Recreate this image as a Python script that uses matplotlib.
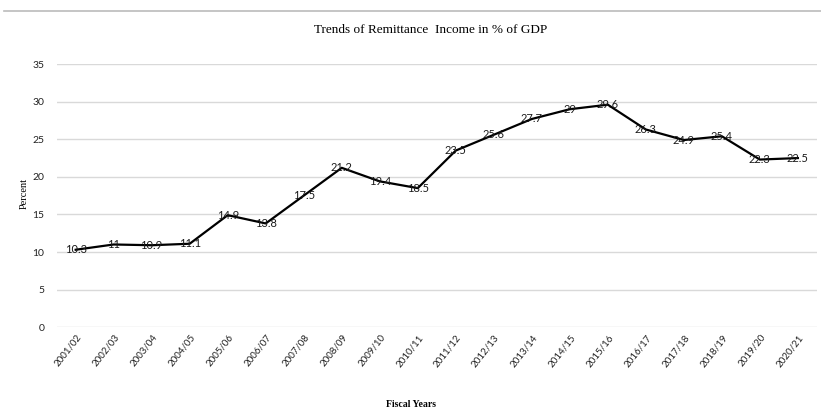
import matplotlib.pyplot as plt
from matplotlib.lines import Line2D

years = ["2001/02", "2002/03", "2003/04", "2004/05", "2005/06", "2006/07",
         "2007/08", "2008/09", "2009/10", "2010/11", "2011/12", "2012/13",
         "2013/14", "2014/15", "2015/16", "2016/17", "2017/18", "2018/19",
         "2019/20", "2020/21"]
remit = [10.3, 11, 10.9, 11.1, 14.9, 13.8, 17.5, 21.2, 19.4, 18.5,
         23.5, 25.6, 27.7, 29, 29.6, 26.3, 24.9, 25.4, 22.3, 22.5]
yticks = [0, 5, 10, 15, 20, 25, 30, 35]

fig = plt.figure(figsize=(8.21, 4.11), dpi=100)
ax = fig.add_axes([0.069, 0.204, 0.926, 0.64])

x = list(range(len(years)))
ax.plot(x, remit, color='black', lw=1.6, zorder=3)
for xi, v in zip(x, remit):
    ax.text(xi, v, f"{v:g}", ha='center', va='center', fontsize=8,
            family='Lato', color='#1a1a1a', zorder=4)

ax.set_xlim(-0.5, len(years) - 0.5)
ax.set_ylim(0, 35)
ax.set_yticks(yticks)
ax.set_xticks(x)
ax.set_xticklabels(years, rotation=52, ha='right', rotation_mode='anchor',
                   fontsize=7, family='Lato', color='#222222')
for lab in ax.get_yticklabels():
    lab.set_family('Lato')
    lab.set_fontsize(7.5)
    lab.set_color('#222222')
ax.tick_params(length=0, pad=9)
ax.tick_params(axis='x', pad=4)
ax.grid(axis='y', color='#d9d9d9', lw=1)
ax.set_axisbelow(True)
for s in ax.spines.values():
    s.set_visible(False)

fig.text(0.525, 0.927, "Trends of Remittance  Income in % of GDP",
         ha='center', va='center', fontsize=9.5, family='Liberation Serif')
fig.text(0.5, 0.017, "Fiscal Years", ha='center', va='center',
         fontsize=7, family='Liberation Serif', weight='bold')
fig.text(0.030, 0.53, "Percent", ha='center', va='center', rotation=90,
         fontsize=7.5, family='Liberation Serif')
fig.add_artist(Line2D([0.005, 1.0], [0.973, 0.973], color='#bbbbbb', lw=1.2))

fig.savefig("out.png", dpi=100)
